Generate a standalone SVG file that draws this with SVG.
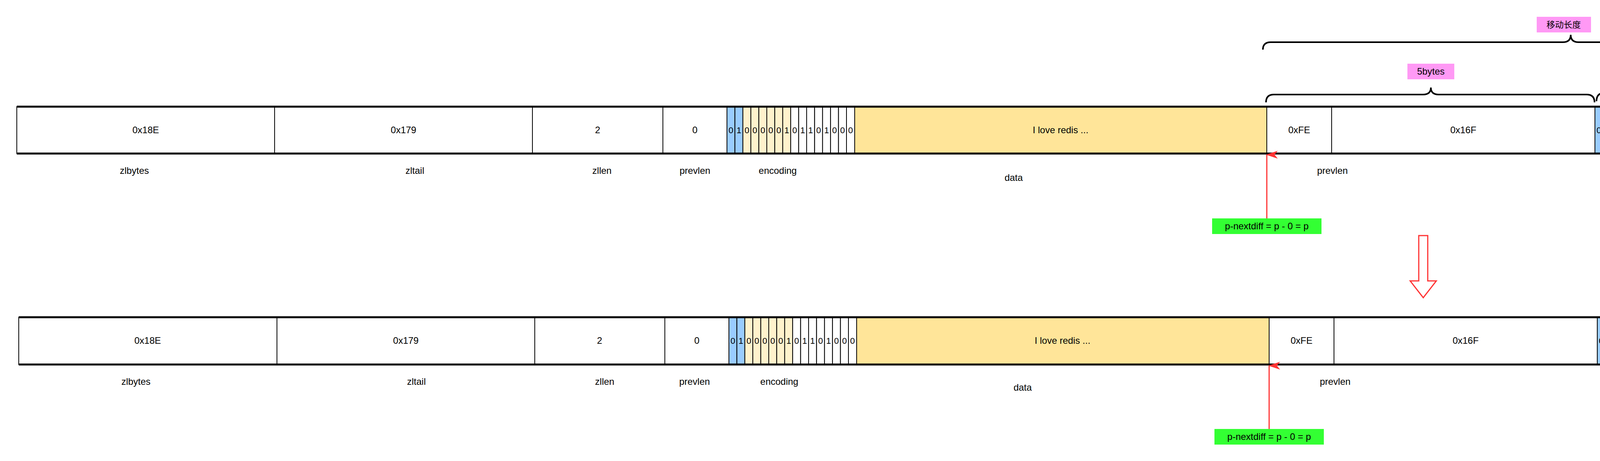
<svg xmlns="http://www.w3.org/2000/svg" width="6092" height="1180" viewBox="0 0 6092 1180">
<style>
.c{stroke:#000;stroke-width:2}
.w{fill:#fff}.b{fill:#99CCFF}.ly{fill:#FFF2CC}.y{fill:#FFE599}
.t{font-family:"Liberation Sans",Arial,sans-serif;font-size:24px;text-anchor:middle;fill:#000}
.s{font-size:22px}
.h{stroke:#000;stroke-width:5}
.br{fill:none;stroke:#000;stroke-width:4}
.pk{fill:#FF99F5}
.gr{fill:#33FF33}
.ar{stroke:#FF3333;stroke-width:3;fill:none}
</style>
<defs>
<marker id="ah" viewBox="0 0 20 30" refX="10" refY="2" markerWidth="20" markerHeight="30" markerUnits="userSpaceOnUse" orient="auto-start-reverse">
<path d="M10,0 L20,30 L10,22 L0,30 Z" fill="#FF3333"/>
</marker>
</defs>
<rect width="6092" height="1180" fill="#fff"/>

<g id="row1">
<g id="r1-zlbytes"><rect class="c w" x="43" y="273" width="660" height="120"/><text class="t" x="373" y="341">0x18E</text></g>
<g id="r1-zltail"><rect class="c w" x="703" y="273" width="660" height="120"/><text class="t" x="1033" y="341">0x179</text></g>
<g id="r1-zllen"><rect class="c w" x="1363" y="273" width="334" height="120"/><text class="t" x="1530" y="341">2</text></g>
<g id="r1-prevlen"><rect class="c w" x="1697" y="273" width="164" height="120"/><text class="t" x="1779" y="341">0</text></g>
<g id="r1-enc">
<rect class="c b" x="1861" y="273" width="20.4" height="120"/><rect class="c b" x="1881.4" y="273" width="20.4" height="120"/>
<rect class="c ly" x="1901.8" y="273" width="20.4" height="120"/><rect class="c ly" x="1922.2" y="273" width="20.4" height="120"/><rect class="c ly" x="1942.6" y="273" width="20.4" height="120"/><rect class="c ly" x="1963" y="273" width="20.4" height="120"/><rect class="c ly" x="1983.4" y="273" width="20.4" height="120"/><rect class="c ly" x="2003.8" y="273" width="20.4" height="120"/>
<rect class="c w" x="2024.2" y="273" width="20.4" height="120"/><rect class="c w" x="2044.6" y="273" width="20.4" height="120"/><rect class="c w" x="2065" y="273" width="20.4" height="120"/><rect class="c w" x="2085.4" y="273" width="20.4" height="120"/><rect class="c w" x="2105.8" y="273" width="20.4" height="120"/><rect class="c w" x="2126.2" y="273" width="20.4" height="120"/><rect class="c w" x="2146.6" y="273" width="20.4" height="120"/><rect class="c w" x="2167" y="273" width="21" height="120"/>
<text class="t s" y="341"><tspan x="1871">0</tspan><tspan x="1891.6">1</tspan><tspan x="1912">0</tspan><tspan x="1932.4">0</tspan><tspan x="1952.8">0</tspan><tspan x="1973.2">0</tspan><tspan x="1993.6">0</tspan><tspan x="2014">1</tspan><tspan x="2034.4">0</tspan><tspan x="2054.8">1</tspan><tspan x="2075.2">1</tspan><tspan x="2095.6">0</tspan><tspan x="2116">1</tspan><tspan x="2136.4">0</tspan><tspan x="2156.8">0</tspan><tspan x="2177.4">0</tspan></text>
</g>
<g id="r1-data"><rect class="c y" x="2188" y="273" width="1055" height="120"/><text class="t" x="2715" y="341">I love redis ...</text></g>
<g id="r1-prevlen2"><rect class="c w" x="3243" y="273" width="166" height="120"/><text class="t" x="3326" y="341">0xFE</text></g>
<g id="r1-16f"><rect class="c w" x="3409" y="273" width="674" height="120"/><text class="t" x="3746" y="341">0x16F</text></g>
<g id="r1-enc2">
<rect class="c b" x="4083" y="273" width="20.25" height="120"/><rect class="c b" x="4103.25" y="273" width="20.25" height="120"/>
<rect class="c ly" x="4123.5" y="273" width="20.25" height="120"/><rect class="c ly" x="4143.75" y="273" width="20.25" height="120"/><rect class="c ly" x="4164" y="273" width="20.25" height="120"/><rect class="c ly" x="4184.25" y="273" width="20.25" height="120"/><rect class="c ly" x="4204.5" y="273" width="20.25" height="120"/><rect class="c ly" x="4224.75" y="273" width="20.25" height="120"/>
<text class="t s" y="341"><tspan x="4093">0</tspan><tspan x="4113.4">0</tspan><tspan x="4133.6">0</tspan><tspan x="4153.9">0</tspan><tspan x="4174.1">1</tspan><tspan x="4194.4">0</tspan><tspan x="4214.6">1</tspan><tspan x="4234.9">0</tspan></text>
</g>
<g id="r1-data2">
<rect class="c y" x="4245" y="273" width="54" height="120"/><rect class="c y" x="4299" y="273" width="54" height="120"/><rect class="c y" x="4353" y="273" width="54" height="120"/><rect class="c y" x="4407" y="273" width="54" height="120"/><rect class="c y" x="4461" y="273" width="54" height="120"/><rect class="c y" x="4515" y="273" width="54" height="120"/><rect class="c y" x="4569" y="273" width="54" height="120"/><rect class="c y" x="4623" y="273" width="54" height="120"/><rect class="c y" x="4677" y="273" width="54" height="120"/><rect class="c y" x="4731" y="273" width="54" height="120"/>
<text class="t" y="341"><tspan x="4272">H</tspan><tspan x="4326">e</tspan><tspan x="4380">l</tspan><tspan x="4434">l</tspan><tspan x="4488">o</tspan><tspan x="4542">W</tspan><tspan x="4596">o</tspan><tspan x="4650">r</tspan><tspan x="4704">l</tspan><tspan x="4758">d</tspan></text>
</g>
<g id="r1-zlend"><rect class="c w" x="4785" y="273" width="165" height="120"/><text class="t" x="4867" y="341">0xFF</text></g>
<g id="r1-empty"><rect class="c w" x="4950" y="273" width="920" height="120"/></g>
<g id="r1-zlend2"><rect class="c w" x="5870" y="273" width="135" height="120"/><text class="t" x="5937" y="341">0xFF</text></g>
<line class="h" x1="43" y1="273" x2="6005" y2="273"/><line class="h" x1="43" y1="393" x2="6005" y2="393"/>
<text class="t" y="445"><tspan x="344">zlbytes</tspan><tspan x="1062">zltail</tspan><tspan x="1541">zllen</tspan><tspan x="1779">prevlen</tspan><tspan x="1991">encoding</tspan><tspan x="3411">prevlen</tspan><tspan x="4160">encoding</tspan><tspan x="4366">data</tspan><tspan x="4869">zlend</tspan><tspan x="5972">zlend</tspan></text>
<text class="t" x="2595" y="463">data</text>
</g>

<g id="braces">
<path class="br" d="M3233,127 Q3233,108 3253,108 L4001,108 Q4021,108 4021,89 Q4021,108 4041,108 L4783,108 Q4803,108 4803,127"/>
<path class="br" d="M3241,262 Q3241,242 3261,242 L3643,242 Q3663,242 3663,224 Q3663,242 3683,242 L4062,242 Q4082,242 4082,262"/>
<path class="br" d="M4087,259 Q4087,238 4107,238 L4152,238 Q4168,238 4168,221 Q4168,238 4184,238 L4230,238 Q4248,238 4248,259"/>
<path class="br" d="M4250,255 Q4250,235 4265,235 Q4279,235 4279,217 Q4279,235 4293,235 Q4308,235 4308,255"/>
<g id="lbl-move"><rect class="pk" x="3934" y="43" width="139" height="40"/><text class="t" x="4003" y="71" style="font-family:'Noto Sans CJK SC','Liberation Sans',sans-serif;font-size:22px">移动长度</text></g>
<g id="lbl-5bytes"><rect class="pk" x="3603" y="163" width="120" height="40"/><text class="t" x="3663" y="191">5bytes</text></g>
<g id="lbl-1byte-a"><rect class="pk" x="4113" y="163" width="99" height="40"/><text class="t" x="4162" y="191">1byte</text></g>
<g id="lbl-1byte-b"><rect class="pk" x="4243" y="165" width="99" height="40"/><text class="t" x="4292" y="193">1byte</text></g>
</g>

<g id="row2">
<g id="r2-zlbytes"><rect class="c w" x="48" y="812" width="661" height="121"/><text class="t" x="378" y="880">0x18E</text></g>
<g id="r2-zltail"><rect class="c w" x="709" y="812" width="660" height="121"/><text class="t" x="1039" y="880">0x179</text></g>
<g id="r2-zllen"><rect class="c w" x="1369" y="812" width="333" height="121"/><text class="t" x="1535" y="880">2</text></g>
<g id="r2-prevlen"><rect class="c w" x="1702" y="812" width="164" height="121"/><text class="t" x="1784" y="880">0</text></g>
<g id="r2-enc">
<rect class="c b" x="1866" y="812" width="20.4" height="121"/><rect class="c b" x="1886.4" y="812" width="20.4" height="121"/>
<rect class="c ly" x="1906.8" y="812" width="20.4" height="121"/><rect class="c ly" x="1927.2" y="812" width="20.4" height="121"/><rect class="c ly" x="1947.6" y="812" width="20.4" height="121"/><rect class="c ly" x="1968" y="812" width="20.4" height="121"/><rect class="c ly" x="1988.4" y="812" width="20.4" height="121"/><rect class="c ly" x="2008.8" y="812" width="20.4" height="121"/>
<rect class="c w" x="2029.2" y="812" width="20.4" height="121"/><rect class="c w" x="2049.6" y="812" width="20.4" height="121"/><rect class="c w" x="2070" y="812" width="20.4" height="121"/><rect class="c w" x="2090.4" y="812" width="20.4" height="121"/><rect class="c w" x="2110.8" y="812" width="20.4" height="121"/><rect class="c w" x="2131.2" y="812" width="20.4" height="121"/><rect class="c w" x="2151.6" y="812" width="20.4" height="121"/><rect class="c w" x="2172" y="812" width="21" height="121"/>
<text class="t s" y="880"><tspan x="1876">0</tspan><tspan x="1896.6">1</tspan><tspan x="1917">0</tspan><tspan x="1937.4">0</tspan><tspan x="1957.8">0</tspan><tspan x="1978.2">0</tspan><tspan x="1998.6">0</tspan><tspan x="2019">1</tspan><tspan x="2039.4">0</tspan><tspan x="2059.8">1</tspan><tspan x="2080.2">1</tspan><tspan x="2100.6">0</tspan><tspan x="2121">1</tspan><tspan x="2141.4">0</tspan><tspan x="2161.8">0</tspan><tspan x="2182.4">0</tspan></text>
</g>
<g id="r2-data"><rect class="c y" x="2193" y="812" width="1056" height="121"/><text class="t" x="2720" y="880">I love redis ...</text></g>
<g id="r2-prevlen2"><rect class="c w" x="3249" y="812" width="166" height="121"/><text class="t" x="3332" y="880">0xFE</text></g>
<g id="r2-16f"><rect class="c w" x="3415" y="812" width="674" height="121"/><text class="t" x="3752" y="880">0x16F</text></g>
<g id="r2-enc2">
<rect class="c b" x="4089" y="812" width="20.25" height="121"/><rect class="c b" x="4109.25" y="812" width="20.25" height="121"/>
<rect class="c ly" x="4129.5" y="812" width="20.25" height="121"/><rect class="c ly" x="4149.75" y="812" width="20.25" height="121"/><rect class="c ly" x="4170" y="812" width="20.25" height="121"/><rect class="c ly" x="4190.25" y="812" width="20.25" height="121"/><rect class="c ly" x="4210.5" y="812" width="20.25" height="121"/><rect class="c ly" x="4230.75" y="812" width="20.25" height="121"/>
<text class="t s" y="880"><tspan x="4099">0</tspan><tspan x="4119.4">0</tspan><tspan x="4139.6">0</tspan><tspan x="4159.9">0</tspan><tspan x="4180.1">1</tspan><tspan x="4200.4">0</tspan><tspan x="4220.6">1</tspan><tspan x="4240.9">0</tspan></text>
</g>
<g id="r2-H"><rect class="c y" x="4251" y="812" width="53" height="121"/><text class="t" x="4277" y="880">H</text></g>
<g id="r2-prevlen3"><rect class="c w" x="4304" y="812" width="166" height="121"/><text class="t" x="4387" y="880">0xFE</text></g>
<g id="r2-16f2"><rect class="c w" x="4470" y="812" width="672" height="121"/><text class="t" x="4806" y="880">0x16F</text></g>
<g id="r2-enc3">
<rect class="c b" x="5142" y="812" width="20.25" height="121"/><rect class="c b" x="5162.25" y="812" width="20.25" height="121"/>
<rect class="c ly" x="5182.5" y="812" width="20.25" height="121"/><rect class="c ly" x="5202.75" y="812" width="20.25" height="121"/><rect class="c ly" x="5223" y="812" width="20.25" height="121"/><rect class="c ly" x="5243.25" y="812" width="20.25" height="121"/><rect class="c ly" x="5263.5" y="812" width="20.25" height="121"/><rect class="c ly" x="5283.75" y="812" width="20.25" height="121"/>
<text class="t s" y="880"><tspan x="5152">0</tspan><tspan x="5172.4">0</tspan><tspan x="5192.6">0</tspan><tspan x="5212.9">0</tspan><tspan x="5233.1">1</tspan><tspan x="5253.4">0</tspan><tspan x="5273.6">1</tspan><tspan x="5293.9">0</tspan></text>
</g>
<g id="r2-data3">
<rect class="c y" x="5304" y="812" width="54" height="121"/><rect class="c y" x="5358" y="812" width="54" height="121"/><rect class="c y" x="5412" y="812" width="54" height="121"/><rect class="c y" x="5466" y="812" width="54" height="121"/><rect class="c y" x="5520" y="812" width="54" height="121"/><rect class="c y" x="5574" y="812" width="54" height="121"/><rect class="c y" x="5628" y="812" width="54" height="121"/><rect class="c y" x="5682" y="812" width="54" height="121"/><rect class="c y" x="5736" y="812" width="54" height="121"/><rect class="c y" x="5790" y="812" width="54" height="121"/>
<text class="t" y="880"><tspan x="5331">H</tspan><tspan x="5385">e</tspan><tspan x="5439">l</tspan><tspan x="5493">l</tspan><tspan x="5547">o</tspan><tspan x="5601">W</tspan><tspan x="5655">o</tspan><tspan x="5709">r</tspan><tspan x="5763">l</tspan><tspan x="5817">d</tspan></text>
</g>
<g id="r2-zlend"><rect class="c w" x="5844" y="812" width="164" height="121"/><text class="t" x="5926" y="880">0xFF</text></g>
<line class="h" x1="48" y1="812" x2="6008" y2="812"/><line class="h" x1="48" y1="933" x2="6008" y2="933"/>
<text class="t" y="985"><tspan x="348">zlbytes</tspan><tspan x="1066">zltail</tspan><tspan x="1548">zllen</tspan><tspan x="1778">prevlen</tspan><tspan x="1995">encoding</tspan><tspan x="3418">prevlen</tspan><tspan x="4164">encoding</tspan><tspan x="4551">prevlen</tspan><tspan x="5218">encoding</tspan><tspan x="5548">data</tspan><tspan x="5937">zlend</tspan></text>
<text class="t" x="2618" y="1000">data</text>
</g>

<g id="connectors">
<line class="ar" x1="3243" y1="559" x2="3243" y2="396" marker-end="url(#ah)"/>
<line class="ar" x1="4297" y1="559" x2="4297" y2="396" marker-end="url(#ah)"/>
<line class="ar" x1="3249" y1="1098" x2="3249" y2="936" marker-end="url(#ah)"/>
<line class="ar" x1="4304" y1="1098" x2="4304" y2="936" marker-end="url(#ah)"/>
<path class="ar" d="M3632,603 L3655,603 L3655,719 L3677,719 L3643.5,762 L3610,719 L3632,719 Z"/>
</g>

<g id="green-labels">
<g id="g1"><rect class="gr" x="3103" y="559" width="280" height="40"/><text class="t" x="3243" y="587">p-nextdiff = p - 0 = p</text></g>
<g id="g2"><rect class="gr" x="4161" y="559" width="240" height="40"/><text class="t" x="4281" y="587">p+reqlen = p + 7</text></g>
<g id="g3"><rect class="gr" x="3109" y="1098" width="280" height="40"/><text class="t" x="3249" y="1126">p-nextdiff = p - 0 = p</text></g>
<g id="g4"><rect class="gr" x="4167" y="1098" width="240" height="40"/><text class="t" x="4287" y="1126">p+reqlen = p + 7</text></g>
</g>
</svg>
